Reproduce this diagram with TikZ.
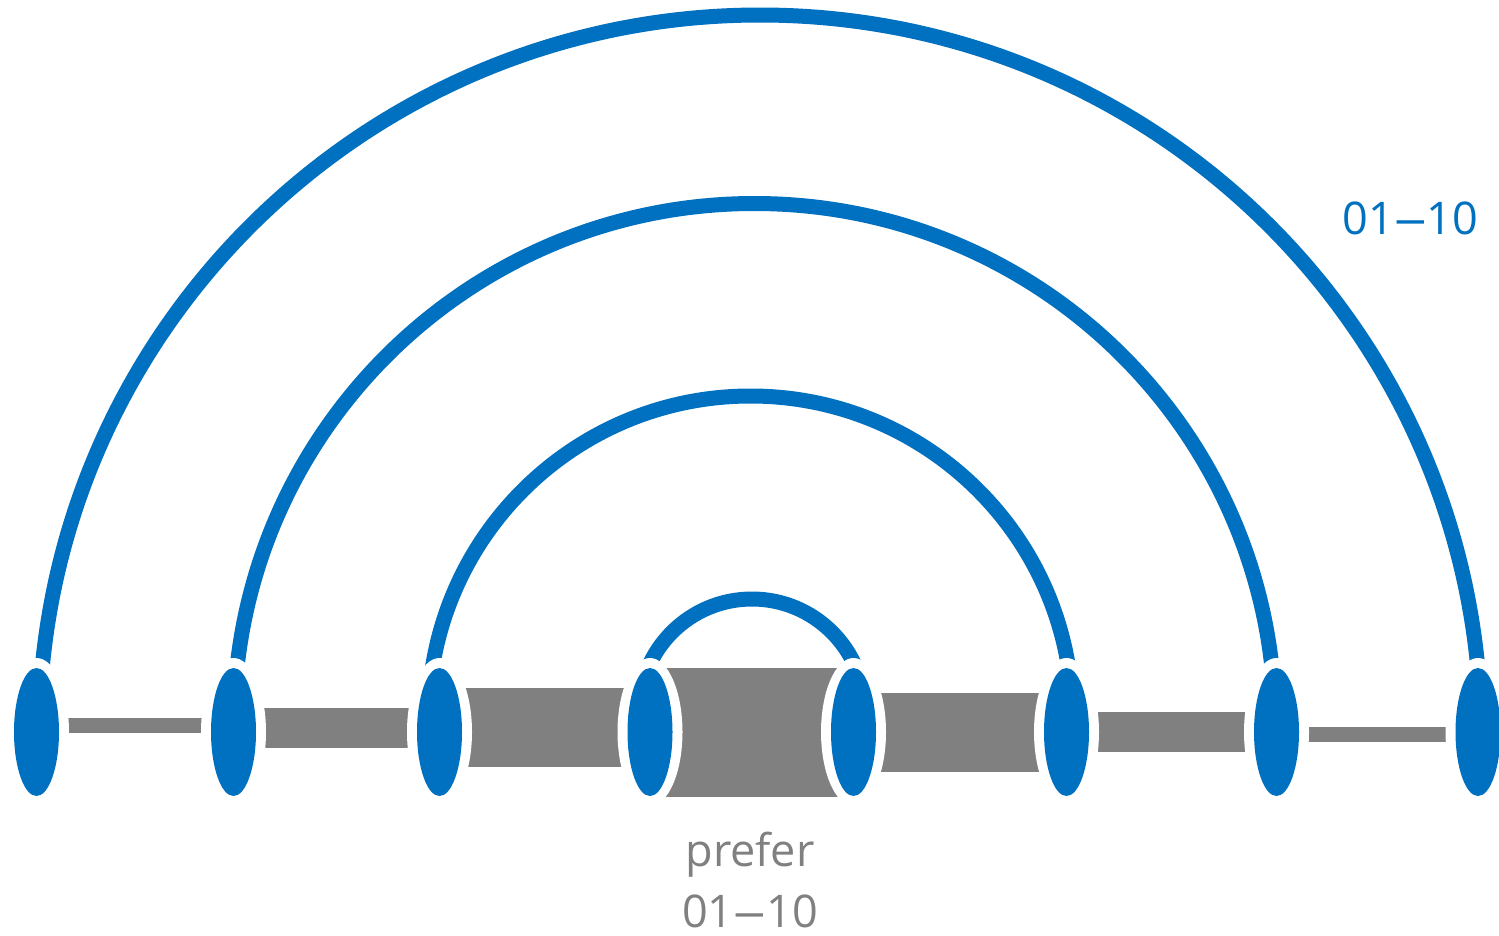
\documentclass[tikz,border=0pt]{standalone}
\usepackage{fontspec}
\usepackage{graphicx}
\setmainfont{Open Sans}
\usetikzlibrary{shapes.geometric}
\definecolor{linkblue}{RGB}{0,112,192}
\definecolor{bargray}{RGB}{128,128,128}
% a slightly wider dash for the ranges
\newcommand{\rangedash}{\scalebox{1.45}[1]{–}}
\begin{document}
\begin{tikzpicture}[x=1pt,y=1pt,
  cup/.style={ellipse, fill=linkblue, minimum width=45, minimum height=128, inner sep=0pt},
  halo/.style={ellipse, fill=white, minimum width=65, minimum height=148, inner sep=0pt},
  arcline/.style={draw=linkblue, line width=15},
  bar/.style={fill=bargray},
  lbl/.style={font=\fontsize{45}{50}\selectfont, inner sep=0pt, anchor=base}]

% canvas
\fill[white] (0,0) rectangle (1499,-935);
\useasboundingbox (0,0) rectangle (1499,-935);

% centres of the eight cups
\coordinate (p1) at (36.5,-732);
\coordinate (p2) at (233.5,-732);
\coordinate (p3) at (439.5,-732);
\coordinate (p4) at (650,-732);
\coordinate (p5) at (853.5,-732);
\coordinate (p6) at (1066.5,-732);
\coordinate (p7) at (1276.5,-732);
\coordinate (p8) at (1478,-732);

% gray bars between neighbouring cups
\fill[bar] (p1 |- 0,-718) rectangle (p2 |- 0,-733);
\fill[bar] (p2 |- 0,-708) rectangle (p3 |- 0,-748);
\fill[bar] (p3 |- 0,-688) rectangle (p4 |- 0,-767);
\fill[bar] (p4 |- 0,-668) rectangle (p5 |- 0,-797);
\fill[bar] (p5 |- 0,-693) rectangle (p6 |- 0,-772);
\fill[bar] (p6 |- 0,-712) rectangle (p7 |- 0,-752);
\fill[bar] (p7 |- 0,-727) rectangle (p8 |- 0,-742);

% nested blue arcs joining symmetric cups
\draw[arcline] (p1) ++(2.5,-4) arc[start angle=180, end angle=0, radius=721];
\draw[arcline] (p2) ++(0.5,8) arc[start angle=180, end angle=0, radius=520.5];
\draw[arcline] (p3) ++(-11,14) arc[start angle=180, end angle=0, radius=322];
\draw[arcline] (p4) ++(-11,20) arc[start angle=180, end angle=0, radius=113];

% cups with their white rims
\foreach \i in {1,...,8} {
  \node[halo] (h\i) at (p\i) {};
  \node[cup] (e\i) at (p\i) {};
}

% labels
\node[lbl, text=linkblue] (toplbl) at (1410.5,-234) {01\rangedash10};
\node[lbl, text=bargray] (prefer) at (750,-866) {prefer};
\node[lbl, text=bargray] (range) at (750,-927) {01\rangedash10};
\end{tikzpicture}
\end{document}
